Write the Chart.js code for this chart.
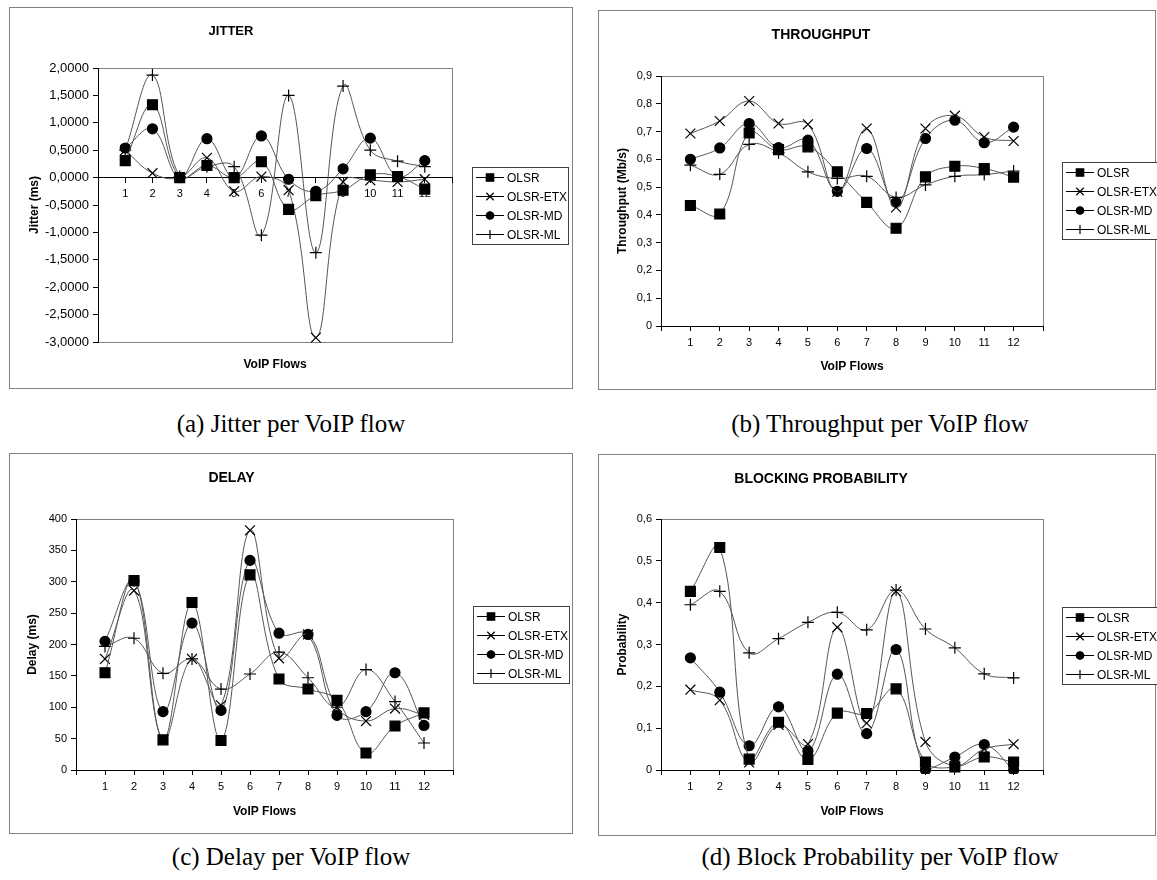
<!DOCTYPE html>
<html lang="en">
<head>
<meta charset="UTF-8">
<title>OLSR variants - VoIP flows</title>
<script src="https://cdn.jsdelivr.net/npm/chart.js"></script>
<style>
  body { margin: 0; background: #fff; font-family: "Liberation Sans", Arial, sans-serif; }
  .panel { position: absolute; border: 1px solid #808080; box-sizing: border-box; background: #fff; }
  .panel .wrap { position: absolute; left: 0; top: 0; right: 0; bottom: 0; }
  .legend { position: absolute; border: 1px solid #404040; background: #fff; font-size: 12px; color: #000; padding: 0 1px 0 3px; }
  .legend .row { height: 19px; display: flex; align-items: center; white-space: nowrap; }
  .legend canvas { margin-right: 3px; }
  .caption { position: absolute; width: 580px; text-align: center; font-family: "Liberation Serif", "Times New Roman", serif; font-size: 25px; line-height: 28px; color: #000; }
</style>
</head>
<body>

  <!-- panels -->
  <div class="panel" style="left:9px; top:7px; width:564px; height:382px;">
    <div class="wrap"><canvas id="jitterChart"></canvas></div>
    <div class="legend" id="jitterLegend" style="left:462px; top:159px;"></div>
  </div>
  <div class="panel" style="left:598px; top:10px; width:558px; height:380px;">
    <div class="wrap"><canvas id="throughputChart"></canvas></div>
    <div class="legend" id="throughputLegend" style="left:463px; top:151px;"></div>
  </div>
  <div class="panel" style="left:9px; top:453px; width:564px; height:381px;">
    <div class="wrap"><canvas id="delayChart"></canvas></div>
    <div class="legend" id="delayLegend" style="left:463px; top:152px;"></div>
  </div>
  <div class="panel" style="left:598px; top:454px; width:558px; height:382px;">
    <div class="wrap"><canvas id="blockingChart"></canvas></div>
    <div class="legend" id="blockingLegend" style="left:463px; top:152px;"></div>
  </div>

  <div class="caption" style="left:1px; top:410px;">(a) Jitter per VoIP flow</div>
  <div class="caption" style="left:590px; top:410px;">(b) Throughput per VoIP flow</div>
  <div class="caption" style="left:1px; top:843px;">(c) Delay per VoIP flow</div>
  <div class="caption" style="left:590px; top:843px;">(d) Block Probability per VoIP flow</div>

<script>
// --- DATA ---
const flows = ['1', '2', '3', '4', '5', '6', '7', '8', '9', '10', '11', '12'];
const seriesNames = ['OLSR', 'OLSR-ETX', 'OLSR-MD', 'OLSR-ML'];

const jitterOlsr = [0.31, 1.33, 0.0, 0.22, 0.0, 0.29, -0.58, -0.33, -0.23, 0.05, 0.02, -0.21];
const jitterEtx  = [0.50, 0.08, 0.0, 0.36, -0.25, 0.02, -0.23, -2.92, -0.08, -0.05, -0.08, -0.03];
const jitterMd   = [0.54, 0.89, 0.0, 0.71, 0.0, 0.76, -0.03, -0.25, 0.16, 0.72, 0.02, 0.31];
const jitterMl   = [0.50, 1.87, 0.02, 0.20, 0.20, -1.05, 1.50, -1.37, 1.67, 0.50, 0.30, 0.20];

const throughputOlsr = [0.434, 0.403, 0.695, 0.635, 0.645, 0.555, 0.445, 0.352, 0.537, 0.575, 0.567, 0.536];
const throughputEtx  = [0.693, 0.738, 0.810, 0.729, 0.726, 0.483, 0.711, 0.427, 0.711, 0.757, 0.680, 0.666];
const throughputMd   = [0.600, 0.641, 0.729, 0.642, 0.669, 0.485, 0.639, 0.445, 0.675, 0.741, 0.660, 0.716];
const throughputMl   = [0.579, 0.546, 0.654, 0.624, 0.555, 0.531, 0.539, 0.463, 0.508, 0.539, 0.545, 0.558];

const delayOlsr = [155, 302, 48, 267, 47, 311, 145, 129, 111, 27, 70, 91];
const delayEtx  = [177, 286, 48, 177, 103, 382, 178, 216, 100, 78, 98, 88];
const delayMd   = [205, 301, 93, 234, 95, 334, 218, 216, 87, 93, 155, 71];
const delayMl   = [197, 210, 154, 177, 129, 153, 188, 147, 100, 160, 109, 43];

const blockingOlsr = [0.427, 0.532, 0.026, 0.114, 0.025, 0.136, 0.135, 0.194, 0.019, 0.007, 0.031, 0.019];
const blockingEtx  = [0.192, 0.167, 0.018, 0.108, 0.062, 0.341, 0.112, 0.427, 0.067, 0.010, 0.050, 0.062];
const blockingMd   = [0.268, 0.186, 0.058, 0.151, 0.045, 0.229, 0.087, 0.288, 0.000, 0.031, 0.061, 0.000];
const blockingMl   = [0.395, 0.427, 0.280, 0.314, 0.353, 0.377, 0.335, 0.430, 0.337, 0.292, 0.230, 0.220];

// --- STYLE ---
const markers = [
  { pointStyle: 'rect', radius: 7 },
  { pointStyle: 'crossRot', radius: 7 },
  { pointStyle: 'circle', radius: 5 },
  { pointStyle: 'cross', radius: 6 }
];
const lineColor = '#555';
Chart.defaults.font.family = '"Liberation Sans", Arial, sans-serif';
Chart.defaults.color = '#000';

const comma = (v, d) => v.toFixed(d).replace('.', ',');

// gray frame around the plot area (Excel style)
const plotFrame = {
  id: 'plotFrame',
  beforeDraw(chart) {
    const { ctx, chartArea: a } = chart;
    ctx.save();
    ctx.strokeStyle = '#808080';
    ctx.lineWidth = 1;
    ctx.strokeRect(Math.round(a.left) + 0.5, Math.round(a.top) + 0.5, Math.round(a.right - a.left), Math.round(a.bottom - a.top));
    ctx.restore();
  }
};

function buildLegend(id) {
  const box = document.getElementById(id);
  seriesNames.forEach((name, i) => {
    const row = document.createElement('div');
    row.className = 'row';
    const c = document.createElement('canvas');
    c.width = 28; c.height = 19;
    const ctx = c.getContext('2d');
    ctx.strokeStyle = '#000';
    ctx.lineWidth = 1;
    ctx.beginPath(); ctx.moveTo(0, 9.5); ctx.lineTo(28, 9.5); ctx.stroke();
    ctx.fillStyle = '#000';
    ctx.lineWidth = 1.2;
    Chart.helpers.drawPoint(ctx, { pointStyle: markers[i].pointStyle, radius: markers[i].radius * 0.75, rotation: 0, borderWidth: 1.2 }, 14, 9.5);
    const span = document.createElement('span');
    span.textContent = name;
    row.appendChild(c);
    row.appendChild(span);
    box.appendChild(row);
  });
}

function makeChart(canvasId, s) {
  const datasets = s.series.map((vals, i) => ({
    label: seriesNames[i],
    data: vals.map((v, k) => ({ x: k + 1, y: v })),
    borderColor: lineColor,
    borderWidth: 1,
    tension: 0.4,
    pointStyle: markers[i].pointStyle,
    pointRadius: markers[i].radius,
    pointBackgroundColor: '#000',
    pointBorderColor: '#000',
    pointBorderWidth: 1.2,
    clip: 4
  }));

  const titleLH = s.titleSize * 1.2;
  const xTitle = { display: true, text: 'VoIP Flows', color: '#000', font: { size: 12, weight: 'bold' }, padding: { top: 0, bottom: s.xTitlePad } };
  const scales = {
    x: {
      type: 'linear', min: 0, max: flows.length + 1,
      position: s.zeroAxis ? { y: 0 } : 'bottom',
      afterFit: sc => { if (!s.zeroAxis) sc.height = s.xH; },
      ticks: { stepSize: 1, autoSkip: false, maxRotation: 0, padding: 5, font: { size: 11 }, color: '#000',
               callback: v => flows[v - 1] ?? '' },
      grid: { drawOnChartArea: false, tickLength: 5, color: '#000' },
      border: { color: '#000' },
      title: s.zeroAxis ? { display: false } : xTitle
    },
    y: {
      min: s.yMin, max: s.yMax,
      afterFit: sc => { sc.width = s.L; },
      ticks: { stepSize: s.yStep, padding: 4, font: { size: s.yTickSize }, color: '#000', callback: s.yFmt },
      grid: { drawOnChartArea: false, tickLength: 5, color: '#000' },
      border: { color: '#000' },
      title: { display: true, text: s.yTitle, color: '#000', font: { size: 12, weight: 'bold' }, padding: { top: s.yTitlePad, bottom: 0 } }
    }
  };
  if (s.zeroAxis) {
    scales.x2 = {
      type: 'linear', min: 0, max: flows.length + 1, position: 'bottom',
      afterFit: sc => { sc.height = s.xH; },
      ticks: { display: false }, grid: { display: false }, border: { display: false },
      title: xTitle
    };
  }

  return new Chart(document.getElementById(canvasId), {
    type: 'line',
    data: { datasets },
    options: {
      responsive: true,
      maintainAspectRatio: false,
      animation: false,
      layout: { padding: { left: 0, top: 0, right: s.R, bottom: 0 } },
      scales,
      plugins: {
        legend: { display: false },
        tooltip: { enabled: false },
        title: { display: true, text: s.title, color: '#000', font: { size: s.titleSize, weight: 'bold' },
                 padding: { top: s.titleMid - titleLH / 2, bottom: s.T - s.titleMid - titleLH / 2 } }
      }
    },
    plugins: [plotFrame]
  });
}

makeChart('jitterChart', {
  title: 'JITTER', titleSize: 13, yTitle: 'Jitter (ms)', zeroAxis: true,
  yMin: -3, yMax: 2, yStep: 0.5, yFmt: v => comma(v, 4), yTickSize: 13,
  series: [jitterOlsr, jitterEtx, jitterMd, jitterMl],
  L: 88, T: 60, xH: 46, R: 120, titleMid: 23, yTitlePad: 17.8, xTitlePad: 15.8
});
makeChart('throughputChart', {
  title: 'THROUGHPUT', titleSize: 14, yTitle: 'Throughput (Mb/s)',
  yMin: 0, yMax: 0.9, yStep: 0.1, yFmt: v => v === 0 ? '0' : comma(v, 1), yTickSize: 11,
  series: [throughputOlsr, throughputEtx, throughputMd, throughputMl],
  L: 62, T: 65, xH: 63, R: 112, titleMid: 24, yTitlePad: 16.8, xTitlePad: 14.8
});
makeChart('delayChart', {
  title: 'DELAY', titleSize: 14, yTitle: 'Delay (ms)',
  yMin: 0, yMax: 400, yStep: 50, yFmt: v => String(v), yTickSize: 11,
  series: [delayOlsr, delayEtx, delayMd, delayMl],
  L: 66, T: 65, xH: 63, R: 119, titleMid: 24, yTitlePad: 15.8, xTitlePad: 13.8
});
makeChart('blockingChart', {
  title: 'BLOCKING PROBABILITY', titleSize: 14, yTitle: 'Probability',
  yMin: 0, yMax: 0.6, yStep: 0.1, yFmt: v => v === 0 ? '0' : comma(v, 1), yTickSize: 11,
  series: [blockingOlsr, blockingEtx, blockingMd, blockingMl],
  L: 62, T: 64, xH: 65, R: 112, titleMid: 24, yTitlePad: 16.8, xTitlePad: 15.8
});

['jitterLegend', 'throughputLegend', 'delayLegend', 'blockingLegend'].forEach(buildLegend);
</script>
</body>
</html>
